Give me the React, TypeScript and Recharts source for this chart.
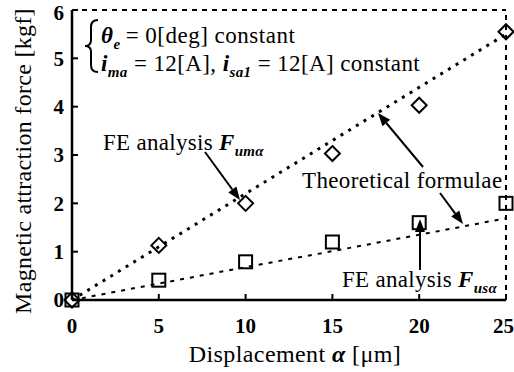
import React from 'react';
import { ComposedChart, Line, Scatter, XAxis, YAxis, ReferenceLine, Customized } from 'recharts';

// displacement [um]
const displacement = [0, 5, 10, 15, 20, 25];
// FE analysis results [kgf]
const feUmAlpha = [0, 1.13, 2.0, 3.03, 4.03, 5.55];
const feUsAlpha = [0, 0.41, 0.79, 1.2, 1.6, 2.0];
// theoretical formulae [kgf]
const theoryUm = [0, 1.1, 2.2, 3.3, 4.4, 5.5];
const theoryUs = [0, 0.34, 0.68, 1.01, 1.35, 1.69];

const xTicks = [0, 5, 10, 15, 20, 25];
const yTicks = [0, 1, 2, 3, 4, 5, 6];

const toRows = (ys: number[]) => displacement.map((x, i) => ({ x, y: ys[i] }));

const FONT = 'Liberation Serif, Times New Roman, DejaVu Serif, serif';

const Diamond = (props: any) => {
  const { cx, cy } = props;
  const r = 7.5;
  return <path d={`M${cx},${cy - r}L${cx + r},${cy}L${cx},${cy + r}L${cx - r},${cy}Z`} fill="none" stroke="#000" strokeWidth={2} />;
};

const Square = (props: any) => {
  const { cx, cy } = props;
  const h = 6.5;
  return <rect x={cx - h} y={cy - h} width={h * 2} height={h * 2} fill="none" stroke="#000" strokeWidth={2} />;
};

const Arrow = ({ x1, y1, x2, y2 }: { x1: number; y1: number; x2: number; y2: number }) => {
  const a = Math.atan2(y2 - y1, x2 - x1);
  const len = 13;
  const w = 5;
  const bx = x2 - len * Math.cos(a);
  const by = y2 - len * Math.sin(a);
  const px = -Math.sin(a) * w;
  const py = Math.cos(a) * w;
  return (
    <g>
      <line x1={x1} y1={y1} x2={bx} y2={by} stroke="#000" strokeWidth={2} />
      <path d={`M${x2},${y2}L${bx + px},${by + py}L${bx - px},${by - py}Z`} fill="#000" />
    </g>
  );
};

const sub = { fontSize: 15, fontStyle: 'italic', fontWeight: 'bold' } as const;
const ital = { fontStyle: 'italic', fontWeight: 'bold' } as const;

const Notes = () => (
  <g style={{ fontFamily: FONT }} fill="#000">
    <path d="M98,20 Q91,20 91,27 L91,40 Q91,46 85,46 Q91,46 91,52 L91,65 Q91,72 98,72" fill="none" stroke="#000" strokeWidth={2} />
    <text x={101} y={43} fontSize={23} letterSpacing={0.5}>
      <tspan style={ital}>θ</tspan>
      <tspan dy={6} style={sub}>e</tspan>
      <tspan dy={-6} dx={5}>= 0[deg] constant</tspan>
    </text>
    <text x={101} y={71} fontSize={23} letterSpacing={0.4}>
      <tspan style={ital}>i</tspan>
      <tspan dy={6} style={sub}>ma</tspan>
      <tspan dy={-6}> = 12[A], </tspan>
      <tspan style={ital}>i</tspan>
      <tspan dy={6} style={sub}>sa1</tspan>
      <tspan dy={-6}> = 12[A] constant</tspan>
    </text>
    <text x={103} y={150} fontSize={23} letterSpacing={0.3}>
      FE analysis <tspan style={ital}>F</tspan>
      <tspan dy={6} style={sub}>umα</tspan>
    </text>
    <Arrow x1={205} y1={152} x2={240} y2={200} />
    <text x={302} y={188} fontSize={23} letterSpacing={0.35}>Theoretical formulae</text>
    <Arrow x1={423} y1={167} x2={378} y2={113} />
    <Arrow x1={440} y1={193} x2={463} y2={224} />
    <text x={342} y={287} fontSize={23} letterSpacing={0.3}>
      FE analysis <tspan style={ital}>F</tspan>
      <tspan dy={6} style={sub}>usα</tspan>
    </text>
    <Arrow x1={420} y1={270} x2={420} y2={219} />
    <text transform="translate(31,161) rotate(-90)" textAnchor="middle" fontSize={24} letterSpacing={0.3}>
      Magnetic attraction force [kgf]
    </text>
    <text x={295} y={362} textAnchor="middle" fontSize={24} letterSpacing={0.4}>
      Displacement  <tspan style={ital}>α</tspan> [μm]
    </text>
  </g>
);

const tickStyle = { fontFamily: FONT, fontSize: 21, fontWeight: 'bold', fill: '#000' };

export default function App() {
  return (
    <div style={{ position: 'absolute', left: 0, top: 0, background: '#fff' }}>
      <ComposedChart width={514} height={372} margin={{ top: 10, right: 8, left: 0, bottom: 0 }}>
        <XAxis
          type="number"
          dataKey="x"
          domain={[0, 25]}
          ticks={xTicks}
          height={72}
          tickSize={-6}
          tickMargin={24}
          tick={tickStyle}
          axisLine={{ stroke: '#000', strokeWidth: 2.5 }}
          tickLine={{ stroke: '#000', strokeWidth: 2 }}
        />
        <YAxis
          type="number"
          dataKey="y"
          domain={[0, 6]}
          ticks={yTicks}
          width={72}
          tickSize={-6}
          tickMargin={14}
          tick={tickStyle}
          axisLine={{ stroke: '#000', strokeWidth: 2.5 }}
          tickLine={{ stroke: '#000', strokeWidth: 2 }}
        />
        <ReferenceLine y={6} stroke="#000" strokeWidth={2} strokeDasharray="5 5" />
        <ReferenceLine x={25} stroke="#000" strokeWidth={2} strokeDasharray="5 5" />
        <Line data={toRows(theoryUm)} dataKey="y" type="linear" stroke="#000" strokeWidth={3} strokeDasharray="3 6" dot={false} isAnimationActive={false} />
        <Line data={toRows(theoryUs)} dataKey="y" type="linear" stroke="#000" strokeWidth={2} strokeDasharray="4 6" dot={false} isAnimationActive={false} />
        <Scatter data={toRows(feUmAlpha)} dataKey="y" shape={<Diamond />} isAnimationActive={false} />
        <Scatter data={toRows(feUsAlpha)} dataKey="y" shape={<Square />} isAnimationActive={false} />
        <Customized component={<Notes />} />
      </ComposedChart>
    </div>
  );
}
